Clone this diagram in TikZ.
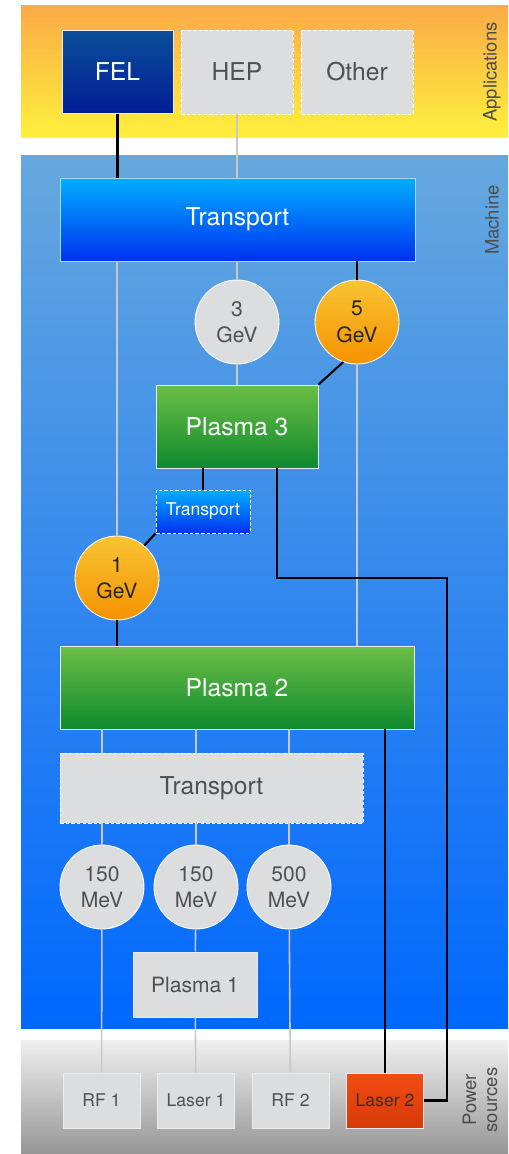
\documentclass[tikz,border=0pt]{standalone}
\usepackage{fontspec}
\setmainfont{TeX Gyre Heros}
\usepackage{xcolor}

\definecolor{appTop}{RGB}{250,170,70}
\definecolor{appBot}{RGB}{254,240,60}
\definecolor{macTop}{RGB}{102,168,222}
\definecolor{macBot}{RGB}{0,104,254}
\definecolor{powTop}{RGB}{240,240,240}
\definecolor{powBot}{RGB}{150,150,150}
\definecolor{felTop}{RGB}{12,78,152}
\definecolor{felBot}{RGB}{0,30,150}
\definecolor{trTop}{RGB}{0,174,255}
\definecolor{trBot}{RGB}{0,50,240}
\definecolor{plTop}{RGB}{108,190,70}
\definecolor{plBot}{RGB}{14,138,46}
\definecolor{orTop}{RGB}{248,196,52}
\definecolor{orBot}{RGB}{247,146,0}
\definecolor{lsTop}{RGB}{242,76,20}
\definecolor{lsBot}{RGB}{214,58,8}
\definecolor{boxGray}{RGB}{220,221,223}
\definecolor{txtGray}{RGB}{80,80,80}
\definecolor{wireGray}{RGB}{200,200,200}

\begin{document}
\begin{tikzpicture}[x=0.02cm, y=-0.02cm,
  block/.style={draw=white!85!gray, line width=0.5pt, inner sep=0pt, align=center,
    font=\fontsize{14}{16}\selectfont, text=white},
  greybox/.style={block, fill=boxGray, text=txtGray},
  maybe/.style={dash pattern=on 2pt off 1.2pt, draw=white},
  energy/.style={circle, draw=white, line width=0.5pt, inner sep=0pt, minimum size=1.68cm,
    align=center, font=\fontsize{12}{15}\selectfont},
  hot/.style={energy, top color=orTop, bottom color=orBot, text=black!85},
  cold/.style={energy, fill=boxGray, text=txtGray},
  source/.style={greybox, minimum width=1.54cm, minimum height=1.1cm, font=\fontsize{10}{12}\selectfont},
  side/.style={rotate=90, align=center, text=black!70, font=\fontsize{10.5}{12}\selectfont},
  unused/.style={wireGray, line width=0.9pt},
  used/.style={black, line width=1.2pt}]

\useasboundingbox (0,0) rectangle (508,1154);

% bands
\fill[top color=appTop, bottom color=appBot] (21,5) rectangle (508,137);
\fill[top color=macTop, bottom color=macBot] (21,155) rectangle (508,1028);
\fill[top color=powTop, bottom color=powBot] (21,1040) rectangle (508,1154);

\node[side] (apps) at (492,72) {Applications};
\node[side] (mach) at (492,220) {Machine};
\node[side] (power) at (480,1100) {Power\\sources};

% applications
\node[block, top color=felTop, bottom color=felBot, minimum width=2.22cm, minimum height=1.66cm] (fel) at (117.5,72) {FEL};
\node[greybox, maybe, minimum width=2.24cm, minimum height=1.68cm] (hep) at (237,72) {HEP};
\node[greybox, maybe, minimum width=2.24cm, minimum height=1.68cm] (other) at (357,72) {Other};

% machine
\node[block, draw=cyan!40, top color=trTop, bottom color=trBot, minimum width=7.1cm, minimum height=1.66cm] (trC) at (237.5,219.5) {Transport};
\node[cold] (gev3) at (237,322) {3\\GeV};
\node[hot] (gev5) at (357,322) {5\\GeV};
\node[block, top color=plTop, bottom color=plBot, minimum width=3.24cm, minimum height=1.66cm] (plC) at (237,426.5) {Plasma 3};
\node[block, maybe, top color=trTop, bottom color=trBot, minimum width=1.88cm, minimum height=0.86cm, font=\fontsize{10}{12}\selectfont] (trS) at (203,511.5) {Transport};
\node[hot] (gev1) at (117,578) {1\\GeV};
\node[block, top color=plTop, bottom color=plBot, minimum width=7.08cm, minimum height=1.66cm] (plB) at (237,687.5) {Plasma 2};
\node[greybox, maybe, minimum width=6.06cm, minimum height=1.4cm] (trB) at (211.5,788) {Transport};
\node[cold] (mev1) at (102,887) {150\\MeV};
\node[cold] (mev2) at (196,887) {150\\MeV};
\node[cold] (mev3) at (289,887) {500\\MeV};
\node[greybox, minimum width=2.48cm, minimum height=1.3cm, font=\fontsize{12}{14}\selectfont] (plA) at (195,984.5) {Plasma 1};

% power sources
\node[source] (rf1) at (101.5,1100.5) {RF 1};
\node[source] (laser1) at (196,1100.5) {Laser 1};
\node[source] (rf2) at (290.5,1100.5) {RF 2};
\node[source, top color=lsTop, bottom color=lsBot, text=black!80] (laser2) at (385,1100.5) {Laser 2};

\coordinate (bend) at (447,578);

% unused paths
\draw[unused] (hep) -- (hep |- trC.north);
\draw[unused] (gev1 |- trC.south) -- (gev1);
\draw[unused] (gev3 |- trC.south) -- (gev3);
\draw[unused] (gev3) -- (plC);
\draw[unused] (gev5) -- (gev5 |- plB.north);
\foreach \m in {mev1,mev2,mev3} {
  \draw[unused] (\m |- plB.south) -- (\m |- trB.north);
  \draw[unused] (\m |- trB.south) -- (\m);
}
\draw[unused] (mev1) -- (rf1);
\draw[unused] (mev2) -- (plA);
\draw[unused] (plA) -- (laser1);
\draw[unused] (mev3) -- (rf2);

% FEL path
\draw[used] (fel) -- (fel |- trC.north);
\draw[used] (gev5 |- trC.south) -- (gev5);
\draw[used] (gev5.251) -- (plC.north east);
\draw[used] (trS.north) -- (trS.north |- plC.south);
\draw[used] (trS.south west) -- (gev1.50);
\draw[used] (gev1) -- (gev1 |- plB.north);
\draw[used] (laser2) -- (laser2 |- plB.south);
\draw[used] (laser2.east) -| (bend) -| ([xshift=0.8cm]plC.south);

\end{tikzpicture}
\end{document}
